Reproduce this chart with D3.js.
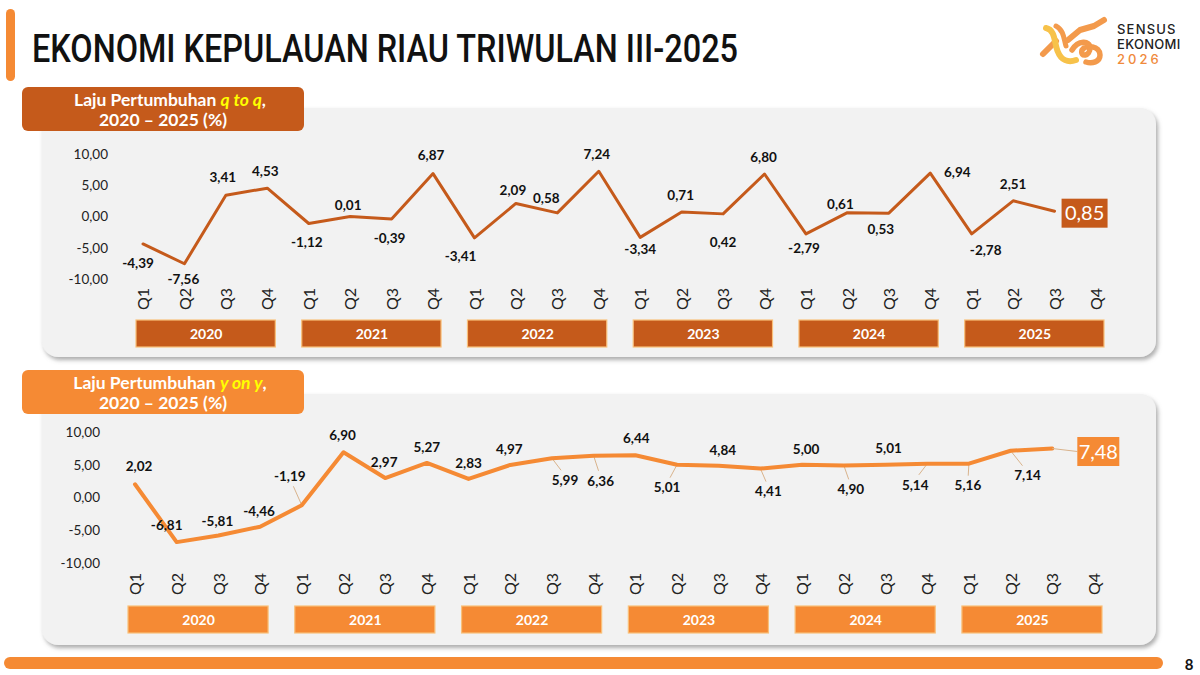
<!DOCTYPE html>
<html>
<head>
<meta charset="utf-8">
<script src="https://cdn.jsdelivr.net/npm/d3@7"></script>
<style>
  body { margin: 0; background: #fff; }
  svg { display: block; font-family: Lato, "Open Sans", sans-serif; }
</style>
</head>
<body>
<div id="root"></div>
<script>
const WIDTH = 1200;
const HEIGHT = 675;

const YEARS = ["2020", "2021", "2022", "2023", "2024", "2025"];
const QUARTERS = ["Q1", "Q2", "Q3", "Q4"];
const Y_TICKS = [-10, -5, 0, 5, 10];

// q-to-q growth, 2020 Q1 .. 2025 Q3
const QTQ_VALUES = [
    -4.39, -7.56, 3.41, 4.53,
    -1.12, 0.01, -0.39, 6.87,
    -3.41, 2.09, 0.58, 7.24,
    -3.34, 0.71, 0.42, 6.80,
    -2.79, 0.61, 0.53, 6.94,
    -2.78, 2.51, 0.85
];

// y-on-y growth, 2020 Q1 .. 2025 Q3
const YOY_VALUES = [
    2.02, -6.81, -5.81, -4.46,
    -1.19, 6.90, 2.97, 5.27,
    2.83, 4.97, 5.99, 6.36,
    6.44, 5.01, 4.84, 4.41,
    5.00, 4.90, 5.01, 5.14,
    5.16, 7.14, 7.48
];

// label placement relative to the point [dx, dy]
const QTQ_LABEL_OFFSETS = [
    [-5, 19], [-1, 16], [-3, -18], [-2, -17],
    [-2, 19], [-2, -11], [-2, 19], [-2, -18],
    [-14, 18], [-3, -13], [-11, -15], [-2, -17],
    [0, 12], [-1, -17], [0, 28], [-1, -17],
    [-2, 14], [-7, -8], [-8, 16], [27, -1],
    [14, 16], [0, -17], [30, 2]
];

const YOY_LABEL_OFFSETS = [
    [4, -18], [-10, -17], [-1, -14], [-1, -15],
    [-12, -29], [-1, -17], [-1, -16], [0, -16],
    [0, -16], [-1, -16], [13, 22], [7, 25],
    [1, -17], [-10, 23], [4, -16], [8, 23],
    [4, -15], [7, 24], [3, -16], [-12, 21],
    [-1, 22], [17, 25], [46, 3]
];

const categories = YEARS.flatMap(y => QUARTERS.map(q => `${y}-${q}`));

const locale = d3.formatLocale({decimal: ",", thousands: ".", grouping: [3], currency: ["", ""], minus: "-"});
const fmt = locale.format(".2f");

const svg = d3.select("#root")
    .append("svg")
    .attr("width", WIDTH)
    .attr("height", HEIGHT);

const defs = svg.append("defs");
defs.append("filter")
    .attr("id", "shadow")
    .attr("x", "-5%").attr("y", "-5%").attr("width", "110%").attr("height", "120%")
    .append("feDropShadow")
    .attr("dx", 2).attr("dy", 3).attr("stdDeviation", 2)
    .attr("flood-color", "#777").attr("flood-opacity", 0.6);

// page decorations
svg.append("rect")
    .attr("x", 6).attr("y", 9).attr("width", 9).attr("height", 72).attr("rx", 4.5)
    .attr("fill", "#F58A34");

svg.append("text")
    .attr("x", 32).attr("y", 62)
    .attr("font-family", "Roboto, sans-serif")
    .attr("font-weight", 500)
    .attr("font-size", 38)
    .attr("textLength", 706)
    .attr("lengthAdjust", "spacingAndGlyphs")
    .attr("fill", "#111")
    .text("EKONOMI KEPULAUAN RIAU TRIWULAN III-2025");

svg.append("rect")
    .attr("x", 4).attr("y", 657).attr("width", 1159).attr("height", 12).attr("rx", 6)
    .attr("fill", "#F58A34");

svg.append("text")
    .attr("x", 1189).attr("y", 670)
    .attr("text-anchor", "middle")
    .attr("font-weight", 700).attr("font-size", 15)
    .attr("fill", "#111")
    .text("8");

// logo ribbons (rough)
const logo = svg.append("g").attr("fill", "none").attr("stroke-linecap", "round").attr("stroke-linejoin", "round");
logo.append("path")
    .attr("d", "M1043,54 L1056,41")
    .attr("stroke", "#F39A4C").attr("stroke-width", 6);
logo.append("path")
    .attr("d", "M1046,28 C1056,30 1054,44 1058,52 C1061,60 1068,63 1076,60")
    .attr("stroke", "#F7C24A").attr("stroke-width", 6);
logo.append("path")
    .attr("d", "M1056,26 C1064,30 1064,40 1066,46")
    .attr("stroke", "#F39A4C").attr("stroke-width", 5);
logo.append("path")
    .attr("d", "M1068,40 L1080,30 L1094,26 L1104,20")
    .attr("stroke", "#F39A4C").attr("stroke-width", 6);
logo.append("path")
    .attr("d", "M1072,50 C1078,40 1090,40 1090,48 C1090,56 1080,58 1082,50 C1086,44 1100,46 1100,55 C1100,62 1092,64 1086,62")
    .attr("stroke", "#F39A4C").attr("stroke-width", 5.5);

const logoText = svg.append("g")
    .attr("font-family", "Inter, Roboto, sans-serif")
    .attr("font-weight", 500)
    .attr("font-size", 13);
logoText.append("text").attr("x", 1117).attr("y", 34).attr("letter-spacing", 1.2).attr("fill", "#222").text("SENSUS");
logoText.append("text").attr("x", 1117).attr("y", 49).attr("letter-spacing", 0.3).attr("fill", "#222").text("EKONOMI");
logoText.append("text").attr("x", 1117).attr("y", 64).attr("letter-spacing", 3).attr("fill", "#F08A3C").text("2026");

function drawPanel(cfg) {
    const g = svg.append("g");

    g.append("rect")
        .attr("x", 42).attr("y", cfg.panelY)
        .attr("width", 1114).attr("height", cfg.panelH)
        .attr("rx", 16)
        .attr("fill", "#F2F2F2")
        .attr("filter", "url(#shadow)");

    // header box
    g.append("rect")
        .attr("x", 22).attr("y", cfg.headerY)
        .attr("width", 282).attr("height", 44).attr("rx", 6)
        .attr("fill", cfg.color);

    const head = g.append("text")
        .attr("x", 170).attr("y", cfg.headerY + 19)
        .attr("text-anchor", "middle")
        .attr("font-weight", 700).attr("font-size", 17.5)
        .attr("fill", "#fff");
    head.append("tspan").text("Laju Pertumbuhan ");
    head.append("tspan").attr("fill", "#FFFF00").attr("font-style", "italic").text(cfg.kind);
    head.append("tspan").text(",");
    g.append("text")
        .attr("x", 163).attr("y", cfg.headerY + 39)
        .attr("text-anchor", "middle")
        .attr("font-weight", 700).attr("font-size", 17.5)
        .attr("fill", "#fff")
        .text("2020 \u2013 2025 (%)");

    const xScale = d3.scalePoint().domain(categories).range(cfg.xRange);
    const yScale = d3.scaleLinear().domain([-10, 10]).range(cfg.yRange);

    // y axis
    const yAxis = g.append("g")
        .attr("transform", `translate(${cfg.yAxisX}, 0)`)
        .call(d3.axisLeft(yScale).tickValues(Y_TICKS).tickFormat(fmt).tickSize(0).tickPadding(0));
    yAxis.select(".domain").remove();
    yAxis.attr("font-family", null).attr("font-size", 13.5);
    yAxis.selectAll("text").attr("fill", "#222");

    // quarter axis
    const qAxis = g.append("g")
        .attr("transform", `translate(0, ${cfg.qY})`)
        .call(d3.axisBottom(xScale).tickSize(0).tickFormat(d => d.split("-")[1]));
    qAxis.select(".domain").remove();
    qAxis.attr("font-family", null).attr("font-size", 16);
    qAxis.selectAll("text")
        .attr("fill", "#222")
        .attr("x", 0).attr("y", 0).attr("dy", "0.35em")
        .attr("text-anchor", "middle")
        .attr("transform", "rotate(-90)");

    // year boxes
    const years = g.selectAll(".year")
        .data(YEARS)
        .enter()
        .append("g")
        .attr("class", "year");
    years.append("rect")
        .attr("x", d => xScale(`${d}-Q1`) - 7)
        .attr("y", cfg.yearY)
        .attr("width", d => xScale(`${d}-Q4`) - xScale(`${d}-Q1`) + 15)
        .attr("height", 27)
        .attr("fill", cfg.color)
        .attr("stroke", "#F9C07A")
        .attr("stroke-width", 1.2);
    years.append("text")
        .attr("x", d => (xScale(`${d}-Q1`) + xScale(`${d}-Q4`)) / 2 + 1)
        .attr("y", cfg.yearY + 14)
        .attr("dy", "0.35em")
        .attr("text-anchor", "middle")
        .attr("font-weight", 700).attr("font-size", 14)
        .attr("fill", "#fff")
        .text(d => d);

    const values = cfg.values;
    const offsets = cfg.offsets;
    const px = i => xScale(categories[i]);
    const py = i => yScale(values[i]);
    const last = values.length - 1;

    // leader lines
    const leaders = d3.range(values.length).filter(i => i < last && Math.abs(offsets[i][1]) > 20 && cfg.leaders);
    g.selectAll(".leader")
        .data(leaders)
        .enter()
        .append("line")
        .attr("x1", i => px(i)).attr("y1", i => py(i))
        .attr("x2", i => px(i) + offsets[i][0] * 0.7)
        .attr("y2", i => py(i) + offsets[i][1] - Math.sign(offsets[i][1]) * 10)
        .attr("stroke", "#D9B38C").attr("stroke-width", 1);

    // line
    const line = d3.line()
        .x((d, i) => px(i))
        .y(d => yScale(d));
    g.append("path")
        .datum(values)
        .attr("fill", "none")
        .attr("stroke", cfg.color)
        .attr("stroke-width", cfg.lineWidth)
        .attr("stroke-linejoin", "round")
        .attr("stroke-linecap", "round")
        .attr("d", line);

    // data labels
    g.selectAll(".label")
        .data(d3.range(last))
        .enter()
        .append("text")
        .attr("x", i => px(i) + offsets[i][0])
        .attr("y", i => py(i) + offsets[i][1])
        .attr("dy", "0.35em")
        .attr("text-anchor", "middle")
        .attr("font-weight", 700).attr("font-size", 13.5)
        .attr("fill", "#111")
        .text(i => fmt(values[i]));

    // highlighted last value
    const lx = px(last) + offsets[last][0];
    const ly = py(last) + offsets[last][1];
    if (cfg.leaders) {
        g.append("line")
            .attr("x1", px(last)).attr("y1", py(last))
            .attr("x2", lx - cfg.boxW / 2).attr("y2", ly)
            .attr("stroke", "#D9B38C").attr("stroke-width", 1);
    }
    g.append("rect")
        .attr("x", lx - cfg.boxW / 2).attr("y", ly - 14.5)
        .attr("width", cfg.boxW).attr("height", 29)
        .attr("fill", cfg.color);
    g.append("text")
        .attr("x", lx).attr("y", ly)
        .attr("dy", "0.36em")
        .attr("text-anchor", "middle")
        .attr("font-size", 20)
        .attr("fill", "#fff")
        .text(fmt(values[last]));
}

drawPanel({
    kind: "q to q",
    values: QTQ_VALUES,
    offsets: QTQ_LABEL_OFFSETS,
    color: "#C55A1B",
    lineWidth: 3,
    panelY: 108, panelH: 249,
    headerY: 87,
    xRange: [143, 1096],
    yRange: [279, 154],
    yAxisX: 108,
    qY: 299,
    yearY: 320,
    boxW: 46,
    leaders: false
});

drawPanel({
    kind: "y on y",
    values: YOY_VALUES,
    offsets: YOY_LABEL_OFFSETS,
    color: "#F58A34",
    lineWidth: 4,
    panelY: 394, panelH: 251,
    headerY: 370,
    xRange: [135, 1094],
    yRange: [563, 432],
    yAxisX: 100,
    qY: 584,
    yearY: 606,
    boxW: 42,
    leaders: true
});
</script>
</body>
</html>
